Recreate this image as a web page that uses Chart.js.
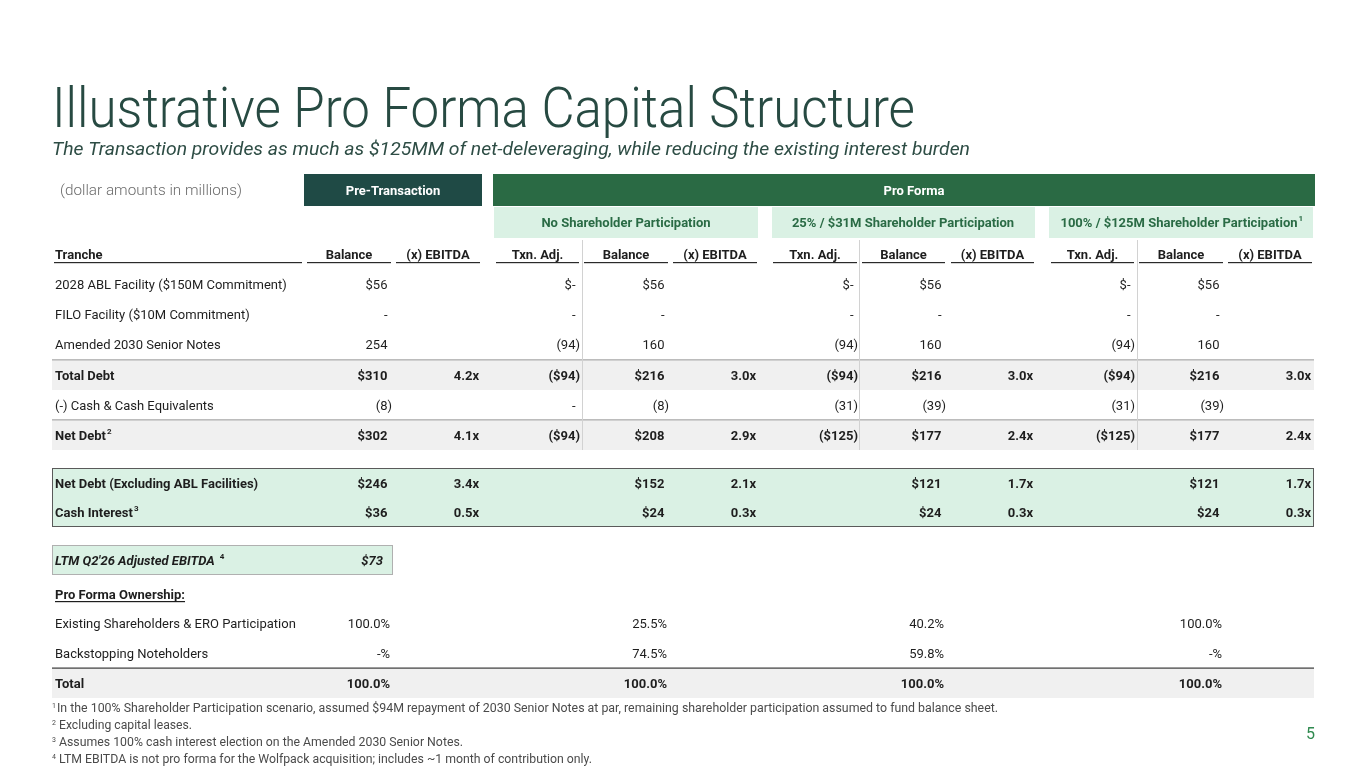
<!DOCTYPE html>
<html lang="en">
<head>
<meta charset="UTF-8">
<title>Illustrative Pro Forma Capital Structure</title>
<script src="https://cdn.jsdelivr.net/npm/chart.js@4.4.1/dist/chart.umd.min.js"></script>
<style>
  html, body { margin: 0; padding: 0; background: #ffffff; }
  #slide { display: block; }
</style>
</head>
<body>
<canvas id="slide" width="1365" height="768"></canvas>
<script>
// ---- text / categories ----
const titleText = 'Illustrative Pro Forma Capital Structure';
const subtitleText = 'The Transaction provides as much as $125MM of net-deleveraging, while reducing the existing interest burden';
const unitsNote = '(dollar amounts in millions)';
const groupTitles = ['Pre-Transaction', 'Pro Forma'];
const scenarios = ['No Shareholder Participation', '25% / $31M Shareholder Participation', '100% / $125M Shareholder Participation'];
const colHeads = ['Balance', '(x) EBITDA', 'Txn. Adj.', 'Balance', '(x) EBITDA', 'Txn. Adj.', 'Balance', '(x) EBITDA', 'Txn. Adj.', 'Balance', '(x) EBITDA'];
const rowLabels = ['2028 ABL Facility ($150M Commitment)', 'FILO Facility ($10M Commitment)', 'Amended 2030 Senior Notes', 'Total Debt',
  '(-) Cash & Cash Equivalents', 'Net Debt', 'Net Debt (Excluding ABL Facilities)', 'Cash Interest'];
const rowSups = ['', '', '', '', '', '2', '', '3'];
const rowBold = [false, false, false, true, false, true, true, true];

// ---- values (pre balance, pre x, then txn / balance / x for each scenario) ----
const ablFacility   = ['$56', '', '$-', '$56', '', '$-', '$56', '', '$-', '$56', ''];
const filoFacility  = ['-', '', '-', '-', '', '-', '-', '', '-', '-', ''];
const seniorNotes   = ['254', '', '(94)', '160', '', '(94)', '160', '', '(94)', '160', ''];
const totalDebt     = ['$310', '4.2x', '($94)', '$216', '3.0x', '($94)', '$216', '3.0x', '($94)', '$216', '3.0x'];
const cashEquiv     = ['(8)', '', '-', '(8)', '', '(31)', '(39)', '', '(31)', '(39)', ''];
const netDebt       = ['$302', '4.1x', '($94)', '$208', '2.9x', '($125)', '$177', '2.4x', '($125)', '$177', '2.4x'];
const netDebtExAbl  = ['$246', '3.4x', '', '$152', '2.1x', '', '$121', '1.7x', '', '$121', '1.7x'];
const cashInterest  = ['$36', '0.5x', '', '$24', '0.3x', '', '$24', '0.3x', '', '$24', '0.3x'];
const tableRows = [ablFacility, filoFacility, seniorNotes, totalDebt, cashEquiv, netDebt, netDebtExAbl, cashInterest];

const ltmLabel = "LTM Q2'26 Adjusted EBITDA";
const ltmEbitda = '$73';

const ownershipTitle = 'Pro Forma Ownership:';
const ownershipLabels = ['Existing Shareholders & ERO Participation', 'Backstopping Noteholders', 'Total'];
const existingOwnership = ['100.0%', '25.5%', '40.2%', '100.0%'];
const backstopOwnership = ['-%', '74.5%', '59.8%', '-%'];
const totalOwnership    = ['100.0%', '100.0%', '100.0%', '100.0%'];
const ownershipRows = [existingOwnership, backstopOwnership, totalOwnership];

const footnotes = [
  ['1', 'In the 100% Shareholder Participation scenario, assumed $94M repayment of 2030 Senior Notes at par, remaining shareholder participation assumed to fund balance sheet.'],
  ['2', 'Excluding capital leases.'],
  ['3', 'Assumes 100% cash interest election on the Amended 2030 Senior Notes.'],
  ['4', 'LTM EBITDA is not pro forma for the Wolfpack acquisition; includes ~1 month of contribution only.']
];
const pageNumber = '5';

// ---- layout (page units) ----
const colLeft  = [307, 396, 496, 584, 673, 773, 862, 951, 1051, 1139, 1228];
const colRight = [391, 480, 579, 668, 757, 857, 945, 1034, 1134, 1223, 1312];
const colKind  = ['amt', 'x', 'amt', 'amt', 'x', 'amt', 'amt', 'x', 'amt', 'amt', 'x'];
const balanceCols = [0, 3, 6, 9];
const rowY = [284, 314, 344, 375, 405, 435, 483, 512];
const ownRowY = [623, 653, 683];
const TEXT_DY = 2; // roboto sits a little high on 'middle'

const FONT = 'Roboto, "Noto Sans", sans-serif';
const INK = '#1e1e1e';
const C = {
  pre: '#1f4a45', pro: '#2a6a44', light: '#daf1e4', sub: '#2a6b45',
  shade: '#f0f0f0', title: '#274a42', foot: '#4a4a4a'
};

// one scatter dataset per table line; the plugin writes the strings at the points
const datasets = [];
tableRows.forEach(function (vals, r) {
  datasets.push({
    label: rowLabels[r], texts: vals, bold: rowBold[r], kinds: colKind,
    data: vals.map(function (v, i) { return { x: colRight[i], y: rowY[r] }; }),
    pointRadius: 0
  });
});
ownershipRows.forEach(function (vals, r) {
  datasets.push({
    label: ownershipLabels[r], texts: vals, bold: r === 2, kinds: vals.map(function () { return 'pct'; }),
    data: vals.map(function (v, i) { return { x: colRight[balanceCols[i]], y: ownRowY[r] }; }),
    pointRadius: 0
  });
});
datasets.push({
  label: ltmLabel, texts: [ltmEbitda], bold: true, italic: true, kinds: ['ltm'],
  data: [{ x: colRight[0], y: 560 }], pointRadius: 0
});

function font(size, weight, italic) {
  return (italic ? 'italic ' : '') + (weight || 400) + ' ' + size + 'px ' + FONT;
}

function fitText(ctx, text, x, y, width) {
  const w = ctx.measureText(text).width;
  ctx.save();
  ctx.translate(x, y);
  ctx.scale(width / w, 1);
  ctx.fillText(text, 0, 0);
  ctx.restore();
}

function textWithSup(ctx, text, sup, x, y, size, weight, italic, gap) {
  ctx.font = font(size, weight, italic);
  ctx.fillText(text, x, y);
  if (!sup) return;
  const w = ctx.measureText(text).width;
  ctx.save();
  ctx.font = font(Math.round(size * 0.62), weight, false);
  ctx.textAlign = 'left';
  ctx.fillText(sup, x + w + (gap || 1), y - size * 0.42);
  ctx.restore();
}

const tablePlugin = {
  id: 'capTable',
  beforeDatasetsDraw(chart) {
    const ctx = chart.ctx, xs = chart.scales.x, ys = chart.scales.y;
    const X = function (v) { return xs.getPixelForValue(v); };
    const Y = function (v) { return ys.getPixelForValue(v); };
    ctx.save();
    // shaded subtotal rows
    [[360, 390], [420, 450]].forEach(function (b) {
      ctx.fillStyle = C.shade;
      ctx.fillRect(X(52), Y(b[0]), X(1314) - X(52), Y(b[1]) - Y(b[0]));
      ctx.fillStyle = '#bcbcbc';
      ctx.fillRect(X(52), Y(b[0]) - 1, X(1314) - X(52), 1.6);
    });
    // green leverage box
    ctx.fillStyle = C.light;
    ctx.fillRect(X(52), Y(468), X(1314) - X(52), Y(527) - Y(468));
    ctx.strokeStyle = '#5a5a5a'; ctx.lineWidth = 1;
    ctx.strokeRect(X(52) + 0.5, Y(468) + 0.5, X(1314) - X(52) - 1, Y(527) - Y(468) - 1);
    // LTM box
    ctx.fillStyle = C.light;
    ctx.fillRect(X(52), Y(545), X(393) - X(52), Y(575) - Y(545));
    ctx.strokeStyle = '#b0b0b0';
    ctx.strokeRect(X(52) + 0.5, Y(545) + 0.5, X(393) - X(52) - 1, Y(575) - Y(545) - 1);
    // ownership total
    ctx.fillStyle = C.shade;
    ctx.fillRect(X(52), Y(668), X(1314) - X(52), Y(698) - Y(668));
    ctx.fillStyle = '#3a3a3a';
    ctx.fillRect(X(52), Y(668) - 0.5, X(1314) - X(52), 1.2);
    // faint separators after each Txn. Adj. column
    ctx.strokeStyle = '#d2d2d2'; ctx.lineWidth = 1;
    [582, 859, 1137].forEach(function (v) {
      ctx.beginPath();
      ctx.moveTo(Math.round(X(v)) + 0.5, Y(240));
      ctx.lineTo(Math.round(X(v)) + 0.5, Y(450));
      ctx.stroke();
    });
    // group header bars
    ctx.fillStyle = C.pre;
    ctx.fillRect(X(304), Y(174), X(482) - X(304), Y(206) - Y(174));
    ctx.fillStyle = C.pro;
    ctx.fillRect(X(493), Y(174), X(1315) - X(493), Y(206) - Y(174));
    ctx.fillStyle = C.light;
    [[494, 758], [772, 1035], [1049, 1313]].forEach(function (b) {
      ctx.fillRect(X(b[0]), Y(207), X(b[1]) - X(b[0]), Y(238) - Y(207));
    });
    // heading underlines
    ctx.fillStyle = '#2a2a2a';
    ctx.fillRect(X(54), Y(262), X(302) - X(54), 1.2);
    colLeft.forEach(function (l, i) {
      ctx.fillRect(X(l), Y(262), X(colRight[i]) - X(l), 1.2);
    });
    ctx.restore();
  },
  afterDatasetsDraw(chart) {
    const ctx = chart.ctx, xs = chart.scales.x, ys = chart.scales.y;
    const X = function (v) { return xs.getPixelForValue(v); };
    const Y = function (v) { return ys.getPixelForValue(v); };
    ctx.save();

    // title block
    ctx.textBaseline = 'alphabetic'; ctx.textAlign = 'left';
    ctx.fillStyle = C.title;
    ctx.font = font(55, 300);
    fitText(ctx, titleText, X(52), Y(127), X(915) - X(52));
    ctx.fillStyle = '#2e4d45';
    ctx.font = font(18, 400, true);
    fitText(ctx, subtitleText, X(52), Y(155), X(970) - X(52));

    // everything below uses middle baseline, nudged down a touch
    ctx.translate(0, TEXT_DY);
    ctx.textBaseline = 'middle';
    ctx.fillStyle = '#6b6b6b';
    ctx.font = font(14, 300);
    fitText(ctx, unitsNote, X(60), Y(189), X(242) - X(60));

    // group headers
    ctx.textAlign = 'center';
    ctx.fillStyle = '#ffffff';
    ctx.font = font(13, 700);
    ctx.fillText(groupTitles[0], X(393), Y(190));
    ctx.fillText(groupTitles[1], X(914), Y(190));
    ctx.fillStyle = C.sub;
    const subCenters = [626, 903, 1181];
    scenarios.forEach(function (s, i) {
      ctx.font = font(13, 700);
      if (i === 2) {
        const w = ctx.measureText(s).width + 4;
        ctx.textAlign = 'left';
        textWithSup(ctx, s, '1', X(subCenters[i]) - w / 2, Y(222), 13, 700, false, 1);
        ctx.textAlign = 'center';
      } else {
        ctx.fillText(s, X(subCenters[i]), Y(222));
      }
    });

    // column headings
    ctx.fillStyle = INK;
    ctx.font = font(13, 700);
    ctx.textAlign = 'left';
    ctx.fillText('Tranche', X(55), Y(254));
    ctx.textAlign = 'center';
    colHeads.forEach(function (h, i) {
      ctx.fillText(h, X((colLeft[i] + colRight[i]) / 2), Y(254));
    });

    // row labels
    ctx.textAlign = 'left';
    rowLabels.forEach(function (l, r) {
      textWithSup(ctx, l, rowSups[r], X(55), Y(rowY[r]), 13, rowBold[r] ? 700 : 400, false, 1);
    });
    textWithSup(ctx, ltmLabel, '4', X(55), Y(560), 13, 700, true, 5);
    ctx.font = font(13, 700);
    ctx.fillText(ownershipTitle, X(55), Y(594));
    ctx.fillRect(X(55), Y(599), ctx.measureText(ownershipTitle).width, 1.2);
    ownershipLabels.forEach(function (l, r) {
      ctx.font = font(13, r === 2 ? 700 : 400);
      ctx.fillText(l, X(55), Y(ownRowY[r]));
    });

    // values at the dataset points
    ctx.textAlign = 'right';
    chart.data.datasets.forEach(function (ds, di) {
      const meta = chart.getDatasetMeta(di);
      ctx.font = font(13, ds.bold ? 700 : 400, ds.italic);
      const pad = ctx.measureText(')').width;
      meta.data.forEach(function (pt, j) {
        const t = ds.texts[j];
        if (!t) return;
        const kind = ds.kinds[j];
        let x = pt.x;
        if (kind === 'amt') x = pt.x + 1 - (t.endsWith(')') ? 0 : pad);
        else if (kind === 'x' || kind === 'pct') x = pt.x - 1;
        else if (kind === 'ltm') x = pt.x - 8;
        ctx.fillText(t, x, pt.y);
      });
    });

    // footnotes
    ctx.textAlign = 'left';
    ctx.fillStyle = C.foot;
    const footY = [707, 724, 741, 758];
    const footEnd = [998, 192, 463, 592];
    footnotes.forEach(function (f, i) {
      ctx.font = font(7, 400);
      ctx.fillText(f[0], X(52), Y(footY[i]) - 3);
      ctx.font = font(12, 400);
      const x0 = X(57) + (i === 0 ? 0 : 2);
      fitText(ctx, f[1], x0, Y(footY[i]), X(footEnd[i]) - x0);
    });

    ctx.fillStyle = '#2f8a4f';
    ctx.font = font(16, 400);
    ctx.textAlign = 'right';
    ctx.fillText(pageNumber, X(1315), Y(733));
    ctx.restore();
  }
};

new Chart(document.getElementById('slide'), {
  type: 'scatter',
  data: { datasets: datasets },
  options: {
    responsive: false,
    animation: false,
    events: [],
    layout: { padding: 0 },
    plugins: { legend: { display: false }, tooltip: { enabled: false } },
    scales: {
      x: { type: 'linear', min: 0, max: 1365, display: false },
      y: { type: 'linear', min: 0, max: 768, reverse: true, display: false }
    }
  },
  plugins: [tablePlugin]
});
</script>
</body>
</html>
